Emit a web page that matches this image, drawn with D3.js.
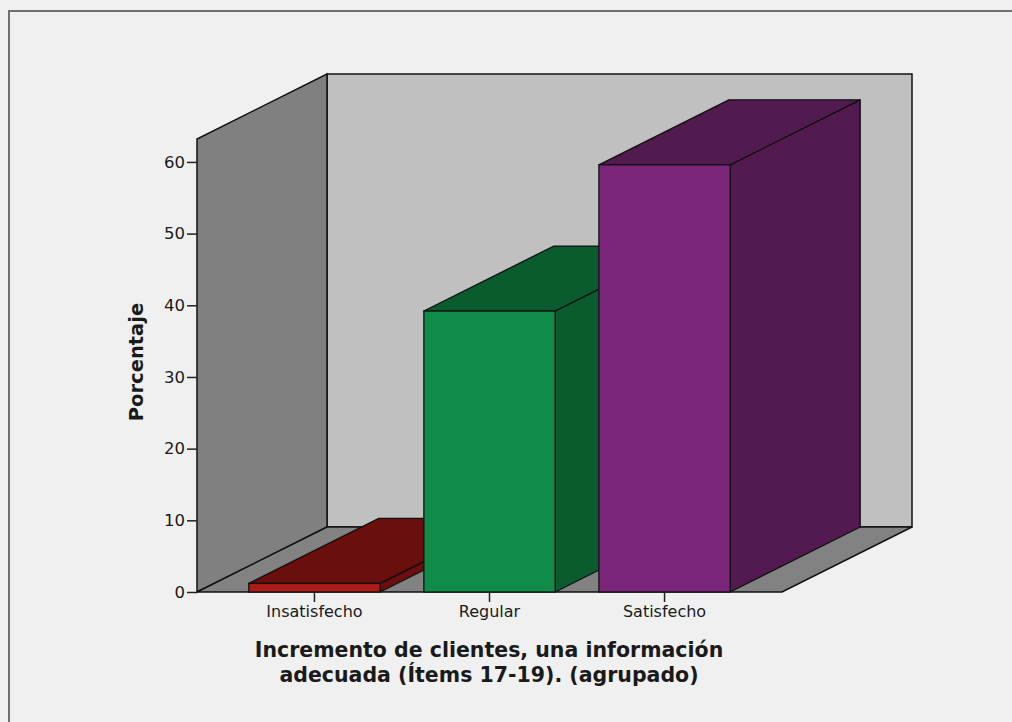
<!DOCTYPE html>
<html>
<head>
<meta charset="utf-8">
<script src="https://cdn.jsdelivr.net/npm/d3@7"></script>
<style>
  html, body { margin: 0; padding: 0; background: #f0f0f0; }
  svg { display: block; }
  text { font-family: "DejaVu Sans", sans-serif; fill: #1a1a1a; }
</style>
</head>
<body>
<svg id="chart" width="1012" height="722"></svg>
<script>
// Porcentaje por nivel de satisfacción
const categories = ["Insatisfecho", "Regular", "Satisfecho"];
const values = [1.2, 39.2, 59.6];
const yTicks = [0, 10, 20, 30, 40, 50, 60];
const frontColors = ["#ad1a1a", "#0f8c47", "#7b267b"];
const darkColors = ["#6a0e0e", "#0a5b2e", "#521a50"];
const yLabel = "Porcentaje";
const xTitle = ["Incremento de clientes, una información", "adecuada (Ítems 17-19). (agrupado)"];

const svg = d3.select("#chart");
const W = 1012, H = 722;

// Layout of the 3D box
const boxLeft = 197, boxRight = 782, boxBase = 592, boxTop = 139;
const dx = 130, dy = -65;
const yMax = 63.2;

const y = d3.scaleLinear().domain([0, yMax]).range([boxBase, boxTop]);
const x = d3.scaleBand().domain(categories).range([boxLeft, boxRight])
  .paddingInner(0.25).paddingOuter(0.296);

// Outer frame
svg.append("rect").attr("x", 9).attr("y", 11).attr("width", W + 20).attr("height", H + 20)
  .attr("fill", "#f0f0f0").attr("stroke", "#707070").attr("stroke-width", 2);

const line = d3.line();
const stroke = "#111";

// Back wall
svg.append("path")
  .attr("d", line([[boxLeft + dx, y(yMax) + dy], [boxRight + dx, y(yMax) + dy], [boxRight + dx, boxBase + dy], [boxLeft + dx, boxBase + dy]]) + "Z")
  .attr("fill", "#c0c0c0").attr("stroke", stroke).attr("stroke-width", 1.5);

// Left wall
svg.append("path")
  .attr("d", line([[boxLeft, boxBase], [boxLeft, y(yMax)], [boxLeft + dx, y(yMax) + dy], [boxLeft + dx, boxBase + dy]]) + "Z")
  .attr("fill", "#808080").attr("stroke", stroke).attr("stroke-width", 1.5);

// Floor
svg.append("path")
  .attr("d", line([[boxLeft, boxBase], [boxRight, boxBase], [boxRight + dx, boxBase + dy], [boxLeft + dx, boxBase + dy]]) + "Z")
  .attr("fill", "#828282").attr("stroke", stroke).attr("stroke-width", 1.5);

// Bars drawn left to right so nearer faces cover the side faces
categories.forEach((c, i) => {
  const x0 = x(c), x1 = x(c) + x.bandwidth();
  const yt = y(values[i]), y0 = y(0);
  const g = svg.append("g");
  g.append("path")
    .attr("d", line([[x1, yt], [x1 + dx, yt + dy], [x1 + dx, y0 + dy], [x1, y0]]) + "Z")
    .attr("fill", darkColors[i]).attr("stroke", stroke).attr("stroke-width", 1.3).attr("stroke-linejoin", "round");
  g.append("path")
    .attr("d", line([[x0, yt], [x1, yt], [x1 + dx, yt + dy], [x0 + dx, yt + dy]]) + "Z")
    .attr("fill", darkColors[i]).attr("stroke", stroke).attr("stroke-width", 1.3).attr("stroke-linejoin", "round");
  g.append("rect")
    .attr("x", x0).attr("y", yt).attr("width", x1 - x0).attr("height", y0 - yt)
    .attr("fill", frontColors[i]).attr("stroke", stroke).attr("stroke-width", 1.3);
});

// Y axis
const yAxis = d3.axisLeft(y).tickValues(yTicks).tickSize(10).tickPadding(2);
const ya = svg.append("g").attr("transform", `translate(${boxLeft},0)`).call(yAxis);
ya.select(".domain").remove();
ya.selectAll(".tick line").attr("stroke", "#222").attr("stroke-width", 1.5);
ya.selectAll(".tick text").attr("font-family", "DejaVu Sans, sans-serif")
  .attr("font-size", 16.5).attr("fill", "#2a2a2a");

// X axis
const xAxis = d3.axisBottom(x).tickSize(10).tickPadding(4);
const xa = svg.append("g").attr("transform", `translate(0,${boxBase})`).call(xAxis);
xa.select(".domain").remove();
xa.selectAll(".tick line").attr("stroke", "#222").attr("stroke-width", 1.5);
xa.selectAll(".tick text").attr("font-family", "DejaVu Sans, sans-serif")
  .attr("font-size", 16).attr("fill", "#2a2a2a");

// Axis titles
svg.append("text").attr("transform", "translate(143,362) rotate(-90)")
  .attr("text-anchor", "middle").attr("font-weight", "bold").attr("font-size", 19.5)
  .text(yLabel);

svg.append("text").attr("text-anchor", "middle").attr("font-weight", "bold").attr("font-size", 20.5)
  .selectAll("tspan").data(xTitle).join("tspan")
  .attr("x", 489).attr("y", (d, i) => 657 + i * 25).text(d => d);
</script>
</body>
</html>
